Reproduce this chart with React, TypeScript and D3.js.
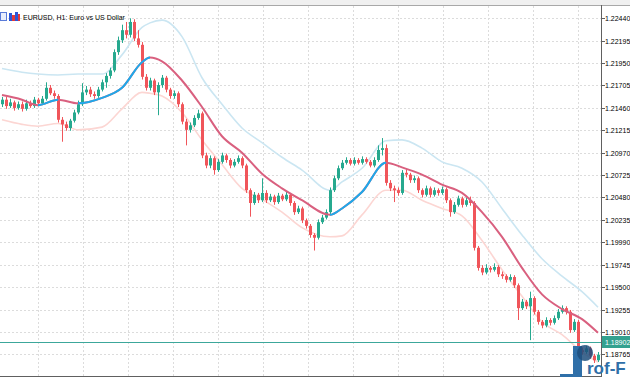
import React from "react";
import * as d3 from "d3";

// ---- data ----
const firstOpen = 1.2150;
const closes = [
  1.2155,1.2148,1.2152,1.2146,1.2150,1.2145,1.2151,1.2148,1.2155,1.2151,
  1.2156,1.2168,1.2162,1.2159,1.2133,1.2128,1.2124,1.2132,1.2141,1.2150,
  1.2163,1.2166,1.2161,1.2159,1.2166,1.2174,1.2181,1.2187,1.2207,1.2220,
  1.2231,1.2226,1.2240,1.2222,1.2215,1.2180,1.2168,1.2176,1.2163,1.2171,
  1.2179,1.2166,1.2159,1.2162,1.2150,1.2131,1.2122,1.2127,1.2135,1.2140,
  1.2094,1.2083,1.2091,1.2078,1.2087,1.2094,1.2089,1.2083,1.2087,1.2091,
  1.2083,1.2056,1.2042,1.2051,1.2045,1.2053,1.2045,1.2049,1.2043,1.2050,
  1.2046,1.2051,1.2042,1.2032,1.2036,1.2023,1.2017,1.2007,1.2004,1.2021,
  1.2026,1.2032,1.2056,1.2069,1.2080,1.2086,1.2089,1.2085,1.2089,1.2086,
  1.2090,1.2087,1.2083,1.2089,1.2100,1.2102,1.2064,1.2058,1.2056,1.2053,
  1.2075,1.2073,1.2067,1.2069,1.2056,1.2051,1.2058,1.2051,1.2056,1.2053,
  1.2057,1.2045,1.2032,1.2040,1.2047,1.2040,1.2045,1.2042,1.1993,1.1971,
  1.1966,1.1971,1.1969,1.1972,1.1964,1.1962,1.1958,1.1961,1.1952,1.1927,
  1.1934,1.1929,1.1938,1.1923,1.1912,1.1908,1.1914,1.1911,1.1916,1.1923,
  1.1927,1.1923,1.1903,1.1912,1.1881,1.1879,1.1883,1.1875,1.1870,1.1876,
];
const highs = [
  1.2158,1.2158,1.2156,1.2154,1.2153,1.2153,1.2155,1.2154,1.2158,1.2157,
  1.2159,1.2174,1.2171,1.2165,1.2161,1.2136,1.2131,1.2134,1.2144,1.2154,
  1.2173,1.2170,1.2169,1.2164,1.2169,1.2177,1.2184,1.2190,1.2210,1.2224,
  1.2237,1.2240,1.2244,1.2243,1.2231,1.2218,1.2183,1.2179,1.2178,1.2174,
  1.2182,1.2181,1.2168,1.2165,1.2164,1.2152,1.2134,1.2130,1.2138,1.2144,
  1.2142,1.2097,1.2094,1.2093,1.2090,1.2097,1.2096,1.2091,1.2090,1.2094,
  1.2093,1.2085,1.2058,1.2054,1.2053,1.2069,1.2056,1.2052,1.2051,1.2053,
  1.2052,1.2054,1.2053,1.2044,1.2039,1.2038,1.2025,1.2019,1.2009,1.2024,
  1.2029,1.2035,1.2059,1.2072,1.2083,1.2089,1.2092,1.2091,1.2092,1.2091,
  1.2093,1.2092,1.2089,1.2092,1.2105,1.2113,1.2106,1.2067,1.2061,1.2059,
  1.2078,1.2079,1.2075,1.2072,1.2071,1.2058,1.2061,1.2060,1.2059,1.2058,
  1.2060,1.2059,1.2047,1.2043,1.2050,1.2049,1.2048,1.2049,1.2044,1.1995,
  1.1974,1.1975,1.1973,1.1976,1.1974,1.1967,1.1964,1.1964,1.1963,1.1954,
  1.1937,1.1936,1.1945,1.1940,1.1925,1.1914,1.1917,1.1916,1.1919,1.1926,
  1.1930,1.1929,1.1925,1.1915,1.1914,1.1884,1.1886,1.1885,1.1877,1.1879,
];
const lows = [
  1.2147,1.2145,1.2146,1.2143,1.2144,1.2142,1.2143,1.2146,1.2146,1.2149,
  1.2149,1.2154,1.2160,1.2156,1.2130,1.2109,1.2121,1.2121,1.2130,1.2139,
  1.2148,1.2160,1.2158,1.2156,1.2157,1.2164,1.2168,1.2178,1.2185,1.2204,
  1.2217,1.2222,1.2223,1.2219,1.2212,1.2177,1.2165,1.2165,1.2160,1.2138,
  1.2168,1.2163,1.2156,1.2156,1.2147,1.2128,1.2105,1.2119,1.2125,1.2133,
  1.2091,1.2080,1.2080,1.2073,1.2076,1.2085,1.2086,1.2080,1.2081,1.2085,
  1.2080,1.2053,1.2027,1.2040,1.2042,1.2043,1.2042,1.2043,1.2040,1.2041,
  1.2044,1.2044,1.2039,1.2029,1.2030,1.2020,1.2014,1.2004,1.1990,1.2002,
  1.2019,1.2024,1.2030,1.2054,1.2067,1.2078,1.2084,1.2083,1.2083,1.2084,
  1.2084,1.2085,1.2081,1.2081,1.2087,1.2094,1.2061,1.2055,1.2043,1.2050,
  1.2051,1.2070,1.2064,1.2064,1.2053,1.2048,1.2049,1.2048,1.2049,1.2050,
  1.2051,1.2042,1.2027,1.2030,1.2038,1.2037,1.2038,1.2039,1.1990,1.1968,
  1.1963,1.1964,1.1966,1.1967,1.1961,1.1959,1.1955,1.1956,1.1949,1.1914,
  1.1925,1.1926,1.1892,1.1920,1.1909,1.1905,1.1906,1.1908,1.1909,1.1914,
  1.1921,1.1920,1.1900,1.1901,1.1870,1.1876,1.1877,1.1872,1.1867,1.1868,
];

const bandIdx = [0,5,9,14,19,25,30,35,37,40,45,50,55,60,65,70,75,82,85,90,96,100,105,110,115,120,125,130,135,140,145,149];
const midVals = [1.2160,1.2155,1.2149,1.2155,1.2151,1.2157,1.2168,1.2196,1.2201,1.2197,1.2176,1.2147,1.2115,1.2097,1.2074,1.2058,1.2045,1.2029,1.2036,1.2054,1.2086,1.2081,1.2073,1.2062,1.2053,1.2032,1.2005,1.1971,1.1942,1.1926,1.1915,1.1900];
const upperVals = [1.2189,1.2185,1.2183,1.2182,1.2183,1.2183,1.2204,1.2234,1.2239,1.2242,1.2224,1.2179,1.2150,1.2124,1.2108,1.2092,1.2078,1.2056,1.2065,1.2080,1.2110,1.2111,1.2102,1.2087,1.2080,1.2065,1.2036,1.2007,1.1981,1.1962,1.1945,1.1928];
const lowerVals = [1.2133,1.2128,1.2126,1.2129,1.2122,1.2125,1.2145,1.2163,1.2162,1.2159,1.2141,1.2111,1.2084,1.2058,1.2046,1.2032,1.2015,1.2005,1.2006,1.2029,1.2056,1.2056,1.2045,1.2036,1.2028,1.2001,1.1969,1.1940,1.1912,1.1898,1.1879,1.1868];

const tickValues = [1.2244,1.22195,1.2195,1.21705,1.2146,1.21215,1.2097,1.20725,1.2048,1.20235,1.1999,1.19745,1.195,1.19255,1.1901,1.18765];
const currentPrice = 1.18902;
const title = "EURUSD, H1:  Euro vs US Dollar";

// ---- styles ----
const W = 630, H = 380;
const AXIS_X = 601;
const GREEN = "#26a98f";
const RED = "#f0555a";
const MID_DOWN = "#d9607f";
const MID_UP = "#1ea9ea";
const UPPER = "#cbe6f2";
const LOWER = "#fcd6d3";
const GRID = "#dcdcdc";
const FONT = "'Liberation Sans', Arial, sans-serif";

export default function App() {
  const x = d3.scaleLinear().domain([0, closes.length - 1]).range([2, 598]);
  const y = d3.scaleLinear().domain([1.18765, 1.2244]).range([354.3, 18.3]);

  const candles = closes.map((c, i) => ({
    i,
    o: i === 0 ? firstOpen : closes[i - 1],
    c,
    h: highs[i],
    l: lows[i],
  }));

  const line = (vals: number[]) =>
    d3
      .line<number>()
      .x((_, k) => x(bandIdx[k]))
      .y((v) => y(v))
      .curve(d3.curveMonotoneX)(vals) || "";

  const upSegs: [number, number][] = [];
  for (let k = 0; k < midVals.length - 1; k++) {
    if (midVals[k + 1] > midVals[k]) upSegs.push([x(bandIdx[k]), x(bandIdx[k + 1])]);
  }

  const gridX: number[] = [];
  for (let gx = 38; gx < AXIS_X; gx += 45) gridX.push(gx);

  const cy = Math.round(y(currentPrice)) + 0.5;

  return (
    <svg
      width={W}
      height={H}
      style={{ position: "fixed", left: 0, top: 0, background: "#fff" }}
      fontFamily={FONT}
    >
      <defs>
        <clipPath id="upClip">
          {upSegs.map(([a, b], k) => (
            <rect key={k} x={a} y={0} width={b - a} height={H} />
          ))}
        </clipPath>
        <clipPath id="plotClip">
          <rect x={0} y={6} width={AXIS_X} height={370} />
        </clipPath>
      </defs>

      {/* top strip */}
      <rect x={0} y={0} width={W} height={5} fill="#f0f0f0" />
      <line x1={0} x2={W} y1={5.5} y2={5.5} stroke="#a8a8a8" />

      {/* grid */}
      <g stroke={GRID} strokeDasharray="2,2" strokeWidth={1}>
        {tickValues.map((t, k) => (
          <line key={k} x1={0} x2={AXIS_X} y1={Math.round(y(t)) + 0.5} y2={Math.round(y(t)) + 0.5} />
        ))}
        {gridX.map((gx, k) => (
          <line key={"v" + k} x1={gx + 0.5} x2={gx + 0.5} y1={6} y2={376} />
        ))}
      </g>

      <g clipPath="url(#plotClip)">
        {/* bands */}
        <path d={line(upperVals)} fill="none" stroke={UPPER} strokeWidth={1.6} />
        <path d={line(lowerVals)} fill="none" stroke={LOWER} strokeWidth={1.6} />

        {/* candles */}
        {candles.map((d) => {
          const cx = Math.round(x(d.i));
          const up = d.c >= d.o;
          const col = up ? GREEN : RED;
          const yt = y(Math.max(d.o, d.c));
          const yb = y(Math.min(d.o, d.c));
          return (
            <g key={d.i}>
              <line x1={cx + 0.5} x2={cx + 0.5} y1={y(d.h)} y2={y(d.l)} stroke={col} strokeWidth={1} />
              <rect x={cx - 1} y={yt} width={3} height={Math.max(1, yb - yt)} fill={col} />
            </g>
          );
        })}

        {/* middle line */}
        <path d={line(midVals)} fill="none" stroke={MID_DOWN} strokeWidth={2} />
        <path d={line(midVals)} fill="none" stroke={MID_UP} strokeWidth={2} clipPath="url(#upClip)" />

        {/* current price line */}
        <line x1={0} x2={AXIS_X} y1={cy} y2={cy} stroke="#3ca79b" strokeWidth={1} />
      </g>

      {/* bottom border */}
      <line x1={0} x2={AXIS_X + 1} y1={376.5} y2={376.5} stroke="#606060" />

      {/* axis */}
      <line x1={AXIS_X + 0.5} x2={AXIS_X + 0.5} y1={5} y2={377} stroke="#606060" />
      {tickValues.map((t, k) => {
        const ty = Math.round(y(t)) + 0.5;
        return (
          <g key={k}>
            <line x1={AXIS_X + 1} x2={AXIS_X + 4} y1={ty} y2={ty} stroke="#606060" />
            <text x={605} y={ty + 2.5} fontSize={7} fill="#000">
              {t.toFixed(5)}
            </text>
          </g>
        );
      })}
      <rect x={AXIS_X + 1} y={cy - 6.5} width={W - AXIS_X - 1} height={12} fill="#33a18f" />
      <text x={605} y={cy + 2.5} fontSize={7} fill="#fff">
        {currentPrice.toFixed(5)}
      </text>

      {/* title with icons */}
      <rect x={0.5} y={12.5} width={6} height={8} fill="#e8eefc" stroke="#5a7bd8" />
      <rect x={9} y={13} width={3} height={8} fill="#2a56d8" />
      <rect x={12} y={15} width={3} height={6} fill="#e03a3a" />
      <rect x={15} y={12} width={3} height={9} fill="#2a56d8" />
      <rect x={18} y={14} width={2} height={7} fill="#e03a3a" />
      <text x={23} y={20} fontSize={7} fill="#000">
        {title}
      </text>

      {/* watermark */}
      <g>
        <rect x={560} y={374} width={13} height={3} fill="#2f6fa8" />
        <rect x={573} y={346} width={9} height={31} fill="#2f6fa8" />
        <circle cx={585} cy={353} r={8} fill="#1f4f7d" opacity={0.85} />
        <text x={587} y={374} fontSize={17} fontWeight="bold" fill="#2f6fa8">
          rof-F
        </text>
      </g>
    </svg>
  );
}
